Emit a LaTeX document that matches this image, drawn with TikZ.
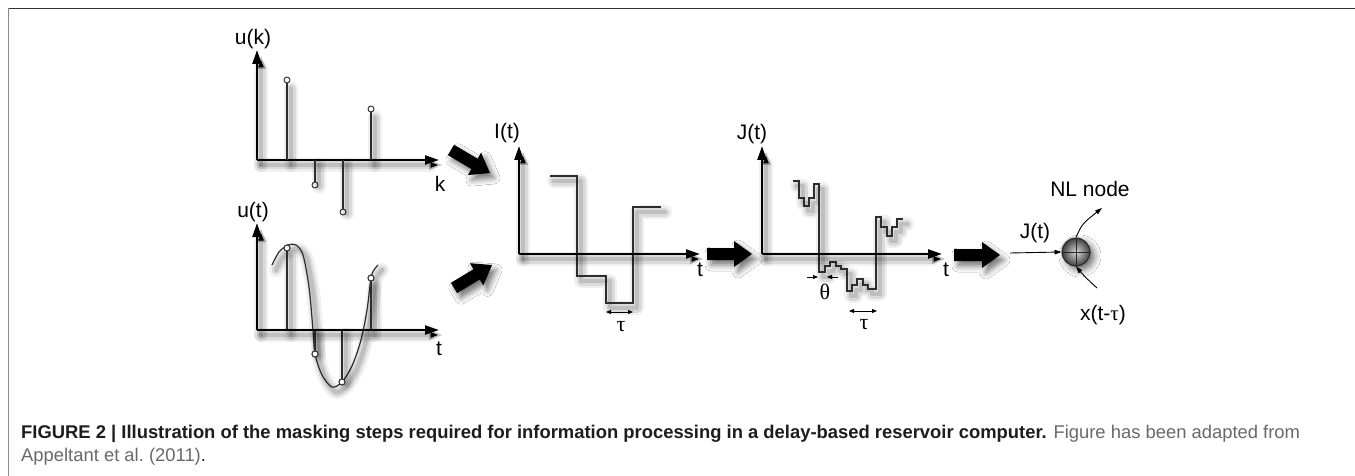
\documentclass[tikz,border=0pt]{standalone}
\usepackage{fontspec}
\setmainfont{Liberation Sans}
\newfontfamily\grk{Liberation Serif}
\usetikzlibrary{arrows.meta,calc,shadows.blur}
\definecolor{capgray}{RGB}{105,105,108}
\definecolor{capblack}{RGB}{30,28,30}
\definecolor{sig}{RGB}{45,45,45}
\tikzset{
  lineshadow/.style={
    preaction={draw=black,draw opacity=0.06,line width=14pt,line cap=round,line join=round,transform canvas={shift={(4pt,-5pt)}}},
    preaction={draw=black,draw opacity=0.09,line width=9pt,line cap=round,line join=round,transform canvas={shift={(4pt,-5pt)}}},
    preaction={draw=black,draw opacity=0.12,line width=4.5pt,line cap=round,line join=round,transform canvas={shift={(4pt,-5pt)}}}},
  axisline/.style={draw=black,line width=2.3pt,-{Triangle[length=14pt,width=9pt]},lineshadow},
  signal/.style={draw=sig,line width=1.2pt,lineshadow},
  stemline/.style={draw=sig,line width=1.2pt,lineshadow},
  dot/.style={circle,draw=sig,fill=white,line width=0.9pt,inner sep=0pt,minimum size=6pt},
  lbl/.style={font=\fontsize{21}{25}\selectfont,inner sep=0pt},
  grklbl/.style={font=\grk\fontsize{22}{25}\selectfont,inner sep=0pt},
  thin/.style={draw=black,line width=0.9pt},
  bigarrow/.style={fill=black,blur shadow={shadow xshift=4pt,shadow yshift=-5pt,shadow blur radius=6pt,shadow opacity=55}},
  captext/.style={anchor=base west,inner sep=0pt,font=\fontsize{18.4}{22}\selectfont,text=capblack},
}
\newcommand\blockarrow[2]{%
  \coordinate (bh) at ($(#2)!18pt!(#1)$);
  \fill[bigarrow] ($(#1)!6pt!90:(#2)$) -- ($(bh)!6pt!-90:(#1)$) -- ($(bh)!13pt!-90:(#1)$) -- (#2)
    -- ($(bh)!13pt!90:(#1)$) -- ($(bh)!6pt!90:(#1)$) -- ($(#1)!6pt!-90:(#2)$) -- cycle;}
\begin{document}
\begin{tikzpicture}[x=1pt,y=-1pt]
\useasboundingbox (0,0) rectangle (1355,476);
\fill[white] (0,0) rectangle (1355,476);
% frame
\coordinate (fa) at (8,8.5);
\coordinate (fb) at (1355,8.5);
\coordinate (fc) at (8,476);
\draw[draw=black!80,line width=1.6pt] (fa) -- (fb);
\draw[draw=black!45,line width=1pt] (fa) -- (fc);

% ---------- panel 1: u(k)
\coordinate (o1) at (257,160);
\coordinate (y1) at (257,50);
\coordinate (x1) at (439,160);
\draw[axisline] (o1) -- (y1);
\draw[axisline] (o1) -- (x1);
\node[lbl] (uk) at (253,39) {u(k)};
\node[lbl] (k1) at (440,184) {k};
\node[dot] (s1) at (287,80) {};
\node[dot] (s2) at (315,185) {};
\node[dot] (s3) at (343,212) {};
\node[dot] (s4) at (371,109) {};
\foreach \s in {s1,s2,s3,s4} \draw[stemline] (\s |- o1) -- (\s);

% ---------- panel 2: u(t)
\coordinate (o2) at (257,330);
\coordinate (y2) at (257,223);
\coordinate (x2) at (439,330);
\draw[signal] plot[smooth,tension=0.5] coordinates {(272,265) (279,252) (288,245) (296,245) (303,255) (309,287) (313,330) (315,354) (322,375) (332,387) (342,382) (352,366) (361,340) (367,310) (371,278) (374,270) (378,265)};
\node[dot] (t1) at (287,248) {};
\node[dot] (t2) at (315,354) {};
\node[dot] (t3) at (342,382) {};
\node[dot] (t4) at (371,278) {};
\foreach \s in {t1,t2,t3,t4} \draw[stemline] (\s |- o2) -- (\s);
\foreach \s in {t1,t2,t3,t4} \node[dot] at (\s) {};
\draw[axisline] (o2) -- (y2);
\draw[axisline] (o2) -- (x2);
\node[lbl] (ut) at (253,212) {u(t)};
\node[lbl] (tt2) at (439,349) {t};

% ---------- block arrows 1,2
\coordinate (a1) at (451,150);
\coordinate (b1) at (490,173);
\blockarrow{a1}{b1}
\coordinate (a2) at (454,288);
\coordinate (b2) at (492,265);
\blockarrow{a2}{b2}

% ---------- panel 3: I(t)
\coordinate (o3) at (519,254);
\coordinate (y3) at (519,146);
\coordinate (x3) at (700,254);
\draw[signal] (550,176) -- (577,176) -- (577,276) -- (606,276) -- (606,303) -- (633,303) -- (633,207) -- (661,207);
\draw[axisline] (o3) -- (y3);
\draw[axisline] (o3) -- (x3);
\node[lbl] (it) at (507,133) {I(t)};
\node[lbl] (tt3) at (700,270) {t};
\coordinate (ta1) at (606,312);
\coordinate (tb1) at (633,312);
\draw[thin,{Triangle[length=5pt,width=4pt]}-{Triangle[length=5pt,width=4pt]}] (ta1) -- (tb1);
\node[grklbl] (tau1) at (621,327) {τ};

% ---------- block arrow 3
\coordinate (a3) at (707,254);
\coordinate (b3) at (752,254);
\blockarrow{a3}{b3}

% ---------- panel 4: J(t)
\coordinate (o4) at (762,254);
\coordinate (y4) at (762,146);
\coordinate (x4) at (942,254);
\draw[signal] (793,181) -- (799,181) -- (799,198) -- (804,198) -- (804,206) -- (809,206) -- (809,198) -- (814,198) -- (814,184) -- (819,184)
  -- (819,272) -- (825,272) -- (825,266) -- (830,266) -- (830,262) -- (836,262) -- (836,266) -- (841,266) -- (841,269) -- (847,269)
  -- (847,291) -- (852,291) -- (852,285) -- (857,285) -- (857,279) -- (863,279) -- (863,285) -- (868,285) -- (868,289) -- (876,289)
  -- (876,217) -- (881,217) -- (881,227) -- (887,227) -- (887,236) -- (892,236) -- (892,227) -- (897,227) -- (897,219) -- (903,219);
\draw[axisline] (o4) -- (y4);
\draw[axisline] (o4) -- (x4);
\node[lbl] (jt) at (752,134) {J(t)};
\node[lbl] (tt4) at (946,270) {t};
\coordinate (th1) at (807,277);
\coordinate (th2) at (818,277);
\coordinate (th3) at (838,277);
\coordinate (th4) at (827,277);
\draw[thin,-{Triangle[length=5pt,width=4pt]}] (th1) -- (th2);
\draw[thin,-{Triangle[length=5pt,width=4pt]}] (th3) -- (th4);
\node[grklbl] (theta) at (825,292) {θ};
\coordinate (ta2) at (849,311);
\coordinate (tb2) at (877,311);
\draw[thin,{Triangle[length=5pt,width=4pt]}-{Triangle[length=5pt,width=4pt]}] (ta2) -- (tb2);
\node[grklbl] (tau2) at (864,325) {τ};

% ---------- block arrow 4
\coordinate (a4) at (954,255);
\coordinate (b4) at (1000,255);
\blockarrow{a4}{b4}

% ---------- NL node
\node[circle,minimum size=28pt,inner sep=0pt,draw=black!85,line width=1pt,
      inner color=black!15,outer color=black!75,
      blur shadow={shadow xshift=4pt,shadow yshift=-4pt,shadow blur radius=7pt,shadow opacity=60}] (nl) at (1076,252) {};
\draw[draw=black!85,line width=0.9pt] (nl.west) -- (nl.east);
\draw[draw=black!85,line width=0.9pt] (nl.north) -- (nl.south);
\coordinate (jin) at (1010,253);
\draw[thin,-{Triangle[length=7pt,width=4.5pt]}] (jin) -- (nl.west);
\node[lbl] (jt2) at (1035,233) {J(t)};
\coordinate (outc) at (1102,208);
\draw[thin,-{Triangle[length=7pt,width=4.5pt]}] (nl.north) .. controls (1082,224) .. (outc);
\coordinate (inc) at (1097,288);
\draw[thin,-{Triangle[length=7pt,width=4.5pt]}] (inc) .. controls (1084,276) .. (nl.south);
\node[lbl] (nlnode) at (1090,189) {NL node};
\node[lbl] (xtt) at (1103,315) {x(t-{\grk τ})};

% ---------- caption
\node[captext] (cap1) at (21,438)
  {\textbf{FIGURE 2 | Illustration of the masking steps required for information processing in a delay-based reservoir computer.} \textcolor{capgray}{Figure has been adapted from}};
\node[captext] (cap2) at (21,461)
  {\textcolor{capgray}{Appeltant et al.\ (2011)}.};
\end{tikzpicture}
\end{document}
